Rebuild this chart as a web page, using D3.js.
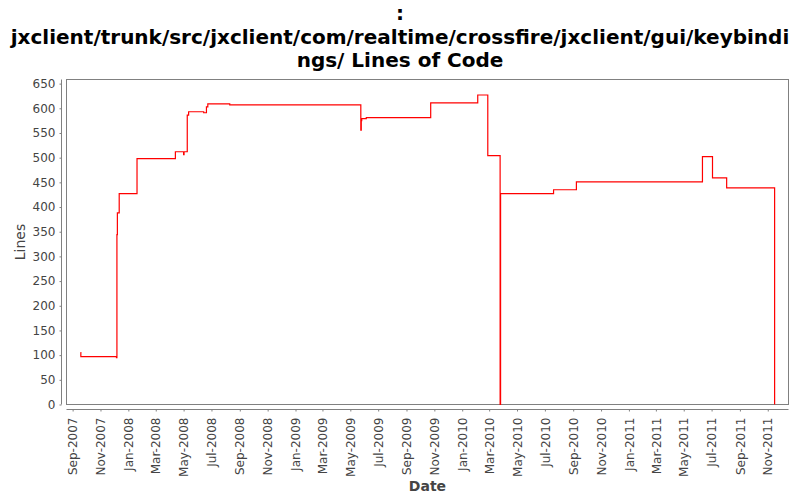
<!DOCTYPE html>
<html>
<head>
<meta charset="utf-8">
<script src="https://cdn.jsdelivr.net/npm/d3@7/dist/d3.min.js"></script>
<style>
  html, body { margin: 0; padding: 0; background: #fff; }
  svg { display: block; }
</style>
</head>
<body>
<svg id="chart" width="800" height="500"></svg>
<script>
// ---- data ----
const titleLines = [":", "jxclient/trunk/src/jxclient/com/realtime/crossfire/jxclient/gui/keybindi", "ngs/ Lines of Code"];
const dates = [
  "2007-09-18","2007-09-19","2007-12-06","2007-12-07","2007-12-08","2007-12-12",
  "2008-01-20","2008-04-13","2008-05-01","2008-05-02","2008-05-09","2008-05-12",
  "2008-06-14","2008-06-20","2008-06-23","2008-08-10","2009-05-24","2009-05-25",
  "2009-05-26","2009-06-05","2009-10-24","2010-02-04","2010-02-26","2010-03-25",
  "2010-03-26","2010-07-20","2010-09-08","2011-06-11","2011-07-03","2011-08-03",
  "2011-11-16"
];
const lines = [
  105, 97, 95, 344, 388, 427,
  498, 512, 506, 512, 586, 593,
  591, 603, 609, 607, 556, 575,
  579, 581, 611, 627, 504, 0,
  427, 435, 451, 502, 459, 439,
  0
];
const yTicks = [0,50,100,150,200,250,300,350,400,450,500,550,600,650];
const xTickStart = "2007-09-01";
const xTickEnd = "2011-11-01";
const xLabel = "Date";
const yLabel = "Lines";

// ---- layout ----
const svg = d3.select("#chart");
const pLeft = 66.5, pRight = 788.5, pTop = 79.5, pBottom = 404.5;
const axisGray = "#808080";
const textGray = "#444444";
const parse = d3.utcParse("%Y-%m-%d");
const data = dates.map((d, i) => ({ date: parse(d), value: lines[i] }));

const t0 = data[0].date.getTime(), t1 = data[data.length - 1].date.getTime();
const xMargin = (t1 - t0) * 0.02;
const x = d3.scaleUtc().domain([new Date(t0 - xMargin), new Date(t1 + xMargin)]).range([pLeft, pRight]);
const yMax = d3.max(lines) * 1.05;
const y = d3.scaleLinear().domain([0, yMax]).range([pBottom, pTop]);

// title
const title = svg.append("text")
  .attr("text-anchor", "middle")
  .attr("font-family", "DejaVu Sans")
  .attr("font-weight", "bold")
  .attr("font-size", 20)
  .attr("fill", "#000");
const titleY = [20, 44, 67];
titleLines.forEach((t, i) => {
  title.append("tspan").attr("x", 400).attr("y", titleY[i]).text(t);
});

// plot frame
svg.append("rect")
  .attr("x", pLeft).attr("y", pTop)
  .attr("width", pRight - pLeft).attr("height", pBottom - pTop)
  .attr("fill", "#fff").attr("stroke", axisGray).attr("stroke-width", 1);

// y axis
const yAxis = d3.axisLeft(y).tickValues(yTicks).tickSize(2).tickPadding(4);
const gy = svg.append("g").attr("transform", "translate(61.5,0)").call(yAxis);
gy.select(".domain").attr("stroke", axisGray).attr("d", `M0,${pTop}V${pBottom}`);
gy.selectAll(".tick line").attr("stroke", axisGray);
gy.selectAll(".tick text").attr("fill", textGray).attr("font-family", "DejaVu Sans").attr("font-size", 12);

// x axis
const xTicks = d3.utcMonth.every(2).range(parse(xTickStart), d3.utcDay.offset(parse(xTickEnd), 1));
const xAxis = d3.axisBottom(x).tickValues(xTicks).tickSize(2).tickFormat(d3.utcFormat("%b-%Y"));
const gx = svg.append("g").attr("transform", "translate(0,409.5)").call(xAxis);
gx.select(".domain").attr("stroke", axisGray).attr("d", `M${pLeft},0H${pRight}`);
gx.selectAll(".tick line").attr("stroke", axisGray);
gx.selectAll(".tick text")
  .attr("fill", textGray).attr("font-family", "DejaVu Sans").attr("font-size", 12)
  .attr("text-anchor", "end")
  .attr("transform", "rotate(-90)")
  .attr("x", -8).attr("y", 0).attr("dy", "0.35em");

// axis labels
svg.append("text")
  .attr("x", (pLeft + pRight) / 2).attr("y", 491)
  .attr("text-anchor", "middle")
  .attr("font-family", "DejaVu Sans").attr("font-size", 14).attr("font-weight", "bold")
  .attr("fill", textGray).text(xLabel);
svg.append("text")
  .attr("transform", `translate(25,${(pTop + pBottom) / 2}) rotate(-90)`)
  .attr("text-anchor", "middle")
  .attr("font-family", "DejaVu Sans").attr("font-size", 14)
  .attr("fill", textGray).text(yLabel);

// line
const line = d3.line().curve(d3.curveStepAfter)
  .x(d => x(d.date)).y(d => y(d.value));
svg.append("path").datum(data)
  .attr("d", line)
  .attr("fill", "none").attr("stroke", "#ff0000").attr("stroke-width", 1.2);
</script>
</body>
</html>
